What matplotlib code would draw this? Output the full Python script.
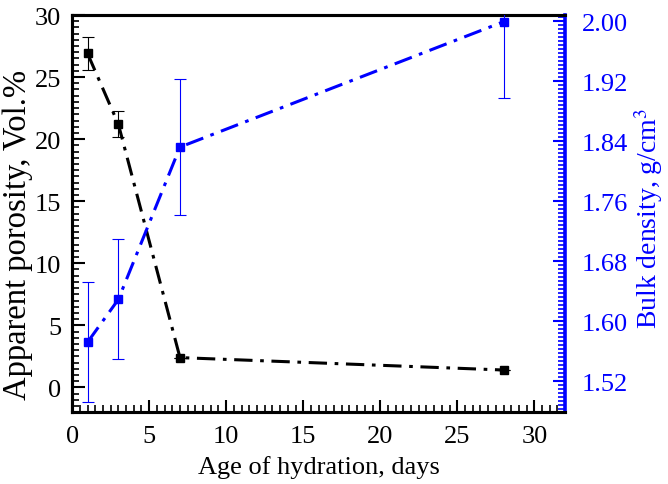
import matplotlib
matplotlib.use('Agg')
import matplotlib.pyplot as plt
from matplotlib.ticker import MultipleLocator

plt.rcParams['font.family'] = ['Liberation Serif', 'DejaVu Serif']
plt.rcParams['mathtext.fontset'] = 'stix'

# data
days = [1, 3, 7, 28]
porosity = [26.9, 21.2, 2.4, 1.4]
porosity_err = [1.3, 1.05, 0, 0]
density = [1.572, 1.629, 1.832, 1.999]
density_err = [0.08, 0.08, 0.091, 0.101]

BLUE = '#0000ff'
dash = (0, (6, 2.5, 1.2, 2.5))

fig = plt.figure(figsize=(6.68, 4.85), dpi=100)
ax = fig.add_axes([0.108, 0.148, 0.738, 0.819])
ax2 = ax.twinx()

# porosity (left axis)
ax.errorbar(days, porosity, yerr=porosity_err, color='black', ecolor='black',
            elinewidth=0.8, capsize=4, capthick=0.8, linewidth=2.2, linestyle=dash,
            marker='s', markersize=6, zorder=3)

# bulk density (right axis)
ax2.errorbar(days, density, yerr=density_err, color=BLUE, ecolor=BLUE,
             elinewidth=0.8, capsize=4, capthick=0.8, linewidth=2.2, linestyle=dash,
             marker='s', markersize=6, zorder=3)

ax.set_xlim(0, 32)
ax.set_ylim(-2, 30)
ax2.set_ylim(1.4787, 2.008)

ax.xaxis.set_major_locator(MultipleLocator(5))
ax.xaxis.set_minor_locator(MultipleLocator(0.5))
ax.yaxis.set_major_locator(MultipleLocator(5))
ax.yaxis.set_minor_locator(MultipleLocator(0.5))
ax2.set_yticks([1.52, 1.60, 1.68, 1.76, 1.84, 1.92, 2.00])
ax2.yaxis.set_minor_locator(MultipleLocator(0.08 / 15))
ax2.yaxis.set_major_formatter(plt.FuncFormatter(lambda v, p: f'{v:.2f}'))

ax.tick_params(axis='both', which='major', direction='in', length=9, width=1.5,
               labelsize=19, top=False, right=False)
ax.tick_params(axis='y', which='major', pad=8)
ax.tick_params(axis='x', which='major', pad=9)
ax.tick_params(axis='both', which='minor', direction='in', length=5, width=1.2,
               top=False, right=False)
ax2.tick_params(axis='y', which='major', direction='in', length=9, width=1.5,
                labelsize=19, colors=BLUE, pad=12)
ax2.tick_params(axis='y', which='minor', direction='in', length=5, width=1.2,
                colors=BLUE)

for s in ['left', 'bottom', 'top']:
    ax.spines[s].set_linewidth(2.2)
    ax2.spines[s].set_linewidth(2.2)
ax2.spines['right'].set_linewidth(2.6)
ax2.spines['right'].set_color(BLUE)
ax.spines['right'].set_visible(False)

ax.set_xlabel('Age of hydration, days', fontsize=19)
ax.set_ylabel('Apparent porosity, Vol.%', fontsize=23.5)
ax2.set_ylabel('Bulk density, g/cm$^3$', fontsize=20, color=BLUE)
ax.xaxis.set_label_coords(0.5, -0.108)
ax.yaxis.set_label_coords(-0.079, 0.45)
ax2.yaxis.set_label_coords(1.135, 0.49)

fig.savefig('out.png', dpi=100)
